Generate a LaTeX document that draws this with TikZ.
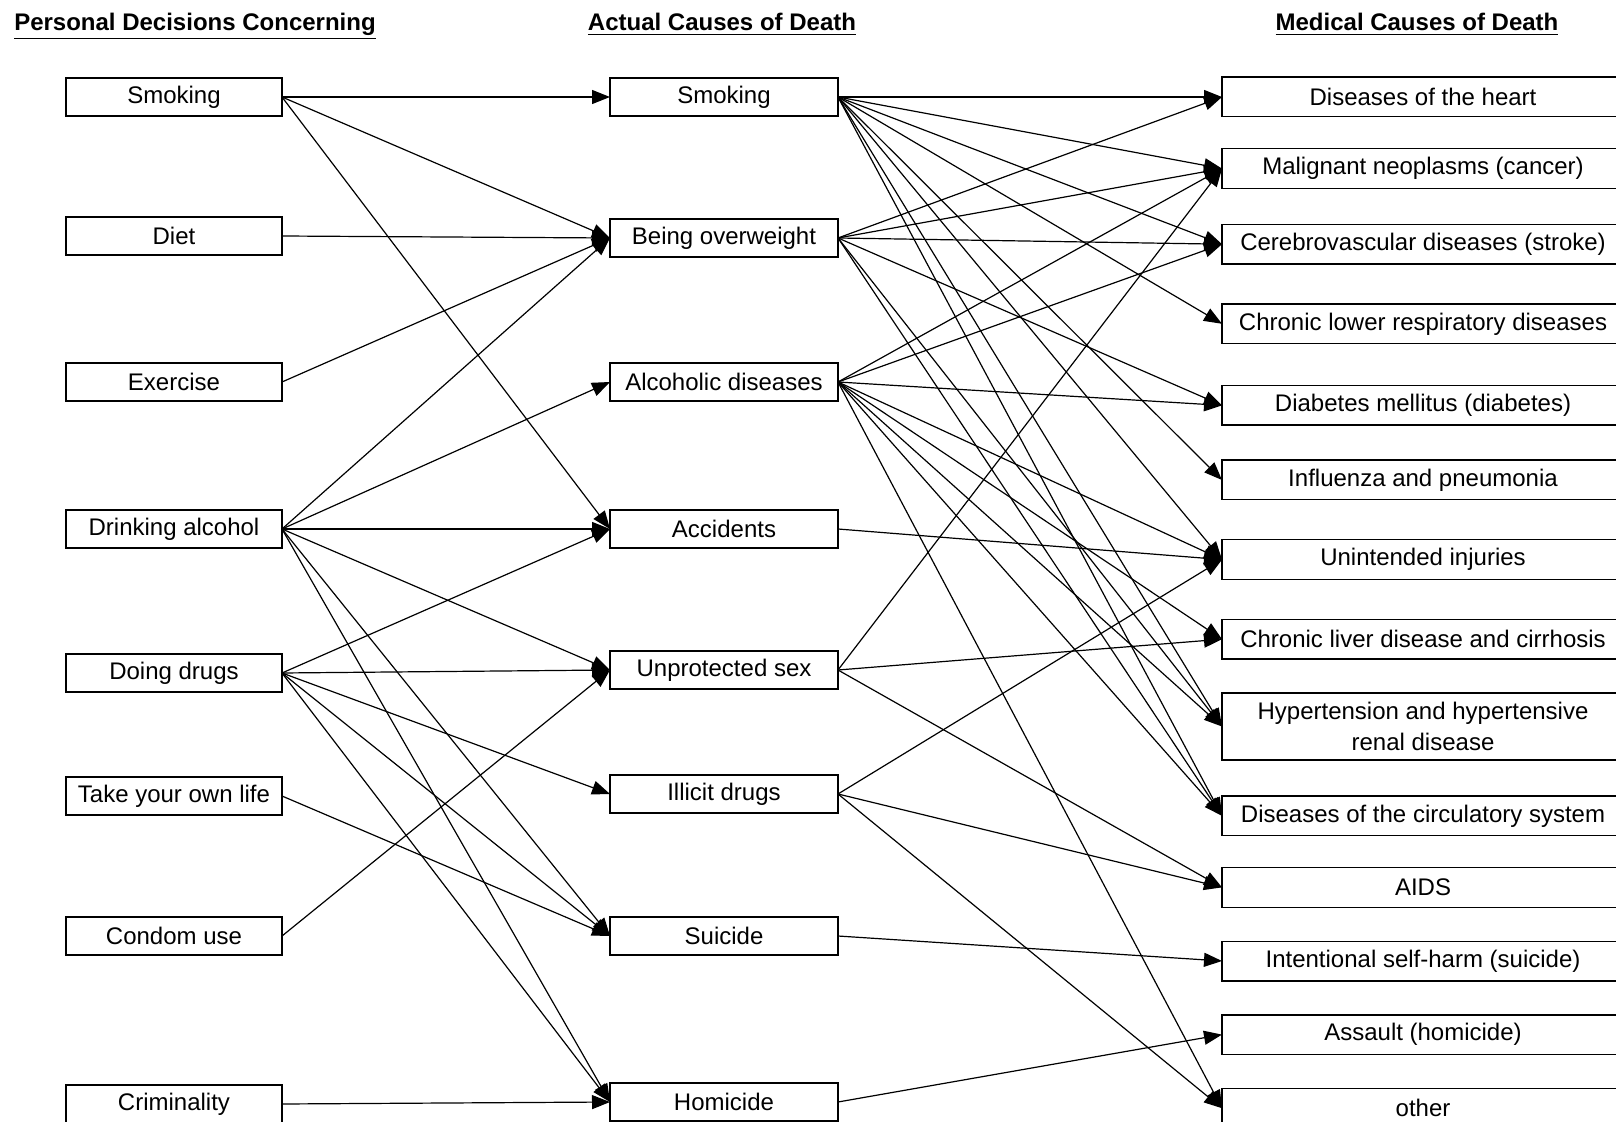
\documentclass[tikz,border=0pt]{standalone}
\usepackage{fontspec}
\setmainfont{Liberation Sans}
\usepackage{tikz}
\usetikzlibrary{positioning}
\usetikzlibrary{arrows.meta}
\tikzstyle{decision} = [rectangle, draw, line width=0.7pt, minimum width=108pt, minimum height=19pt, inner sep=0pt, outer sep=0pt, font=\fontsize{12}{15.5}\selectfont]
\tikzstyle{cause} = [decision, minimum width=114pt]
\tikzstyle{medical} = [decision, minimum width=201pt, minimum height=19.8pt, align=center]
\tikzstyle{heading} = [anchor=base, inner sep=0pt, font=\fontsize{12}{15.5}\selectfont\bfseries]
\tikzstyle{link} = [-{Triangle[length=9pt, width=7pt]}, line width=0.6pt]

\begin{document}
\begin{tikzpicture}
            \useasboundingbox (0pt,0pt) rectangle (808pt,-561pt);
            % column headings
            \node[heading] (headL) at (97.5pt,-15.5pt) {\underline{Personal Decisions Concerning}};
            \node[heading] (headM) at (361pt,-15.5pt) {\underline{Actual Causes of Death}};
            \node[heading] (headR) at (708.5pt,-15.5pt) {\underline{Medical Causes of Death}};
            % personal decisions
            \node[decision] (smokeL) at (87pt,-48.5pt) {Smoking};
            \node[decision] (diet) [below=50.5pt of smokeL] {Diet};
            \node[decision] (exercise) [below=54pt of diet] {Exercise};
            \node[decision] (drinking) [below=54.5pt of exercise] {Drinking alcohol};
            \node[decision] (drugs) [below=53pt of drinking] {Doing drugs};
            \node[decision] (ownlife) [below=42.5pt of drugs] {Take your own life};
            \node[decision] (condom) [below=51pt of ownlife] {Condom use};
            \node[decision] (crime) [below=65pt of condom] {Criminality};
            % actual causes
            \node[cause] (smokeM) [right=164pt of smokeL] {Smoking};
            \node[cause] (overweight) [below=51.5pt of smokeM] {Being overweight};
            \node[cause] (alcohol) [below=53pt of overweight] {Alcoholic diseases};
            \node[cause] (accidents) [below=54.5pt of alcohol] {Accidents};
            \node[cause] (sex) [below=51.5pt of accidents] {Unprotected sex};
            \node[cause] (illicit) [below=43pt of sex] {Illicit drugs};
            \node[cause] (suicide) [below=52pt of illicit] {Suicide};
            \node[cause] (homicide) [below=64pt of suicide] {Homicide};
            % medical causes
            \node[medical] (heart) [right=192pt of smokeM] {Diseases of the heart};
            \node[medical] (cancer) [below=16pt of heart] {Malignant neoplasms (cancer)};
            \node[medical] (stroke) [below=18pt of cancer] {Cerebrovascular diseases (stroke)};
            \node[medical] (respiratory) [below=20pt of stroke] {Chronic lower respiratory diseases};
            \node[medical] (diabetes) [below=21pt of respiratory] {Diabetes mellitus (diabetes)};
            \node[medical] (influenza) [below=17.5pt of diabetes] {Influenza and pneumonia};
            \node[medical] (injuries) [below=20pt of influenza] {Unintended injuries};
            \node[medical] (liver) [below=20pt of injuries] {Chronic liver disease and cirrhosis};
            \node[medical, minimum height=33.5pt] (hypertension) [below=17pt of liver] {Hypertension and hypertensive\\renal disease};
            \node[medical] (circulatory) [below=18pt of hypertension] {Diseases of the circulatory system};
            \node[medical] (aids) [below=16pt of circulatory] {AIDS};
            \node[medical] (selfharm) [below=17pt of aids] {Intentional self-harm (suicide)};
            \node[medical] (assault) [below=17pt of selfharm] {Assault (homicide)};
            \node[medical] (other) [below=17pt of assault] {other};
            % decisions -> actual causes
            \foreach \dst in {smokeM, overweight, accidents} \draw[link] (smokeL.east) -- (\dst.west);
            \draw[link] (diet.east) -- (overweight.west);
            \draw[link] (exercise.east) -- (overweight.west);
            \foreach \dst in {overweight, alcohol, accidents, sex, suicide, homicide} \draw[link] (drinking.east) -- (\dst.west);
            \foreach \dst in {accidents, sex, illicit, suicide, homicide} \draw[link] (drugs.east) -- (\dst.west);
            \draw[link] (ownlife.east) -- (suicide.west);
            \draw[link] (condom.east) -- (sex.west);
            \draw[link] (crime.east) -- (homicide.west);
            % actual causes -> medical causes
            \foreach \dst in {heart, cancer, stroke, respiratory, influenza, injuries, hypertension, circulatory} \draw[link] (smokeM.east) -- (\dst.west);
            \foreach \dst in {heart, cancer, stroke, diabetes, hypertension, circulatory} \draw[link] (overweight.east) -- (\dst.west);
            \foreach \dst in {cancer, stroke, diabetes, injuries, liver, hypertension, circulatory, other} \draw[link] (alcohol.east) -- (\dst.west);
            \draw[link] (accidents.east) -- (injuries.west);
            \foreach \dst in {cancer, liver, aids} \draw[link] (sex.east) -- (\dst.west);
            \foreach \dst in {injuries, aids, other} \draw[link] (illicit.east) -- (\dst.west);
            \draw[link] (suicide.east) -- (selfharm.west);
            \draw[link] (homicide.east) -- (assault.west);
          \end{tikzpicture}
\end{document}
